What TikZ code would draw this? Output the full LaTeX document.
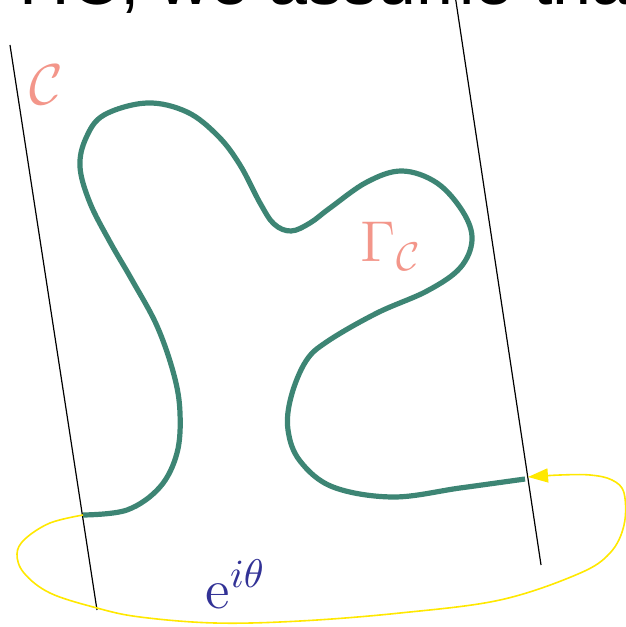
\documentclass[tikz,border=0pt]{standalone}
\usepackage{amsmath}
\usepackage{fontspec}
\newfontfamily\textsansfont{Liberation Sans}
\usetikzlibrary{arrows.meta}

\definecolor{curvegreen}{RGB}{61,133,116}
\definecolor{loopyellow}{RGB}{255,232,0}
\definecolor{labelsalmon}{RGB}{243,150,138}
\definecolor{labelblue}{RGB}{50,50,150}

\begin{document}
\begin{tikzpicture}[x=0.25pt,y=-0.25pt,
    strip/.style={black,line width=0.3pt},
    contour/.style={curvegreen,line width=1.3pt},
    rotloop/.style={loopyellow,line width=0.4pt},
    lbl/.style={font=\fontsize{14}{17}\selectfont,inner sep=0pt}]
  \useasboundingbox (0,0) rectangle (625,627);
  % text of the page, cut at the top
  \node[anchor=base west,inner sep=0pt,font=\textsansfont\fontsize{17.5}{21}\selectfont] (head) at (19,5) {ΠC, we assume that};
  % edges of the strip
  \draw[strip] (10,45) -- (97,610);
  \draw[strip] (455,-5) -- (541,565);
  % ends of the contour
  \coordinate (gstart) at (83,515);
  \coordinate (gend) at (525,479);
  \draw[contour] plot[smooth,tension=0.6] coordinates {
    (83,515) (127,510) (160,487) (177,453) (180,413) (174,375) (157,326)
    (132,280) (110,242) (90,203) (80,167) (86,138) (104,115) (147,103)
    (187,112) (218,136) (240,165) (260,203) (274,224) (291,231) (310,223)
    (330,208) (367,182) (402,171) (437,183) (463,212) (472,240) (460,268)
    (427,291) (377,313) (328,341) (306,361) (291,397) (288,430) (300,461)
    (333,487) (393,497) (460,488) (525,479)};
  \draw[rotloop,-{Triangle[length=5pt,width=3.5pt]}] plot[smooth,tension=0.6] coordinates {
    (83,515) (50,523) (25,539) (17,554) (24,573) (50,593) (97,608)
    (140,617) (215,623) (300,621) (400,613) (500,600) (578,574) (610,553)
    (624,525) (624,493) (612,480) (590,475) (560,475) (528,477)};
  % labels
  \node[lbl,anchor=base west,text=labelsalmon] (clabel) at (29,105) {$\mathcal{C}$};
  \node[lbl,anchor=base west,text=labelsalmon] (gammalabel) at (360,262) {$\Gamma_{\mathcal{C}}$};
  \node[lbl,anchor=base west,text=labelblue] (rotlabel) at (205,608) {$\mathrm{e}^{i\theta}$};
\end{tikzpicture}
\end{document}
